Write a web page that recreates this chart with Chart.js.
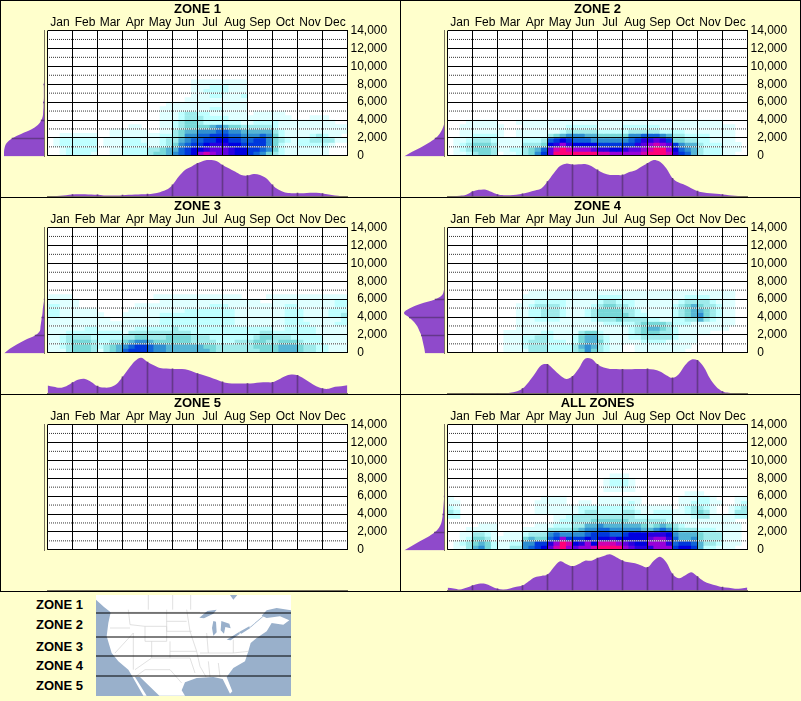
<!DOCTYPE html>
<html lang="en">
<head>
  <meta charset="UTF-8" />
  <title>Zone charts</title>
  <script src="https://cdn.jsdelivr.net/npm/chart.js"></script>
  <style>
    * { margin: 0; padding: 0; box-sizing: border-box; }
    body { width: 801px; height: 701px; background: #ffffcc; position: relative; overflow: hidden; font-family: 'Liberation Sans', Arial, sans-serif; }
    canvas { position: absolute; display: block; }
    .panel { position: absolute; width: 401px; height: 198px; border: 1px solid #000; }
    .key { position: absolute; left: 0; width: 83px; text-align: right; font-weight: bold; font-size: 13px; line-height: 16px; color: #000; }
    #map { position: absolute; left: 96px; top: 595px; }
  </style>
</head>
<body>
  <div class="key" style="top:597px">ZONE 1</div>
  <div class="key" style="top:617px">ZONE 2</div>
  <div class="key" style="top:639px">ZONE 3</div>
  <div class="key" style="top:658px">ZONE 4</div>
  <div class="key" style="top:678px">ZONE 5</div>
  <!-- rough tracing of the location map -->
  <svg id="map" width="195" height="101" viewBox="288 16 585 303">
    <rect x="288" y="16" width="585" height="303" fill="#99b0cb"/>
    <path fill="#fff" d="M288 16H690L700 30L712 16H873V62L830 55L800 62L785 78L800 85L840 80L868 92L850 105L815 100L800 125L770 145L752 160L745 185L735 215L700 235L680 262L697 305L690 312L668 268L640 262L590 265L555 278L545 302L555 318H478L420 262L405 262L440 318H430L398 262L385 240L355 215L335 190L320 140L325 100L332 68L312 52L288 30Z"/>
    <path fill="#99b0cb" d="M598 84L622 64L650 60L640 72L612 86ZM640 94L648 96L650 128L640 138L636 115ZM664 94L688 102L692 116L676 112L672 132L662 122ZM680 150L716 128L720 132L692 152ZM716 128L748 110L750 116L724 132ZM750 112L790 78L791 80L751 114Z"/>
    <g fill="none" stroke="#d2d2d2" stroke-width="2">
      <path d="M332 68H600M385 60L390 105L435 110V155H500V110H435M500 60V125M500 95H560M500 125H575M455 155V205H510V155M510 185H590M510 205H570L585 250M400 130V240M345 190L400 130M405 240L455 205M405 262L435 240H510L545 280M560 60L570 125L590 185L600 230L620 265M625 215L630 262M655 220L660 262M600 190H700M620 130L625 190M700 150L700 190L745 185M572 16V60M445 16V60M518 16V60M330 115H390"/>
    </g>
    <g stroke="#000" stroke-width="3">
      <path d="M288 70H873M288 142H873M288 199H873M288 259H873"/>
    </g>
  </svg>
<script>
const months = ['Jan', 'Feb', 'Mar', 'Apr', 'May', 'Jun', 'Jul', 'Aug', 'Sep', 'Oct', 'Nov', 'Dec'];
const yTicks = ['0', '2,000', '4,000', '6,000', '8,000', '10,000', '12,000', '14,000'];
const dottedLines = [1000, 3000, 5000, 7000, 9000, 11000, 13000];
const levelColors = ['#ffffff', '#e0ffff', '#bfffff', '#9febeb', '#78d8d8', '#55b5d5', '#2f8fd2', '#1164d8',
  '#0038dc', '#0000e0', '#2a00e0', '#5f00e0', '#9800d8', '#d000b0', '#ff0078'];

// heat levels, top row first, bottom row is 0-500. four cells per month, one hex digit per cell
const heat1 = [
  '0000 0000 0000 0000 0000 0001 1111 1111',
  '0000 0000 0000 0000 0000 0001 1122 2111',
  '0000 0000 0000 0000 0000 0001 1222 2111',
  '0000 0000 0000 0000 0000 0001 1122 1112',
  '0000 0000 0000 0000 0000 0011 1111 1111',
  '0000 0000 0000 0000 0001 1111 1111 1111',
  '0000 0000 0000 0000 0011 1111 1122 1111',
  '0000 0000 0000 0000 0011 1233 2211 1111 0111 1100',
  '0000 0000 0000 0000 0011 1233 3222 2111 1111 1110 0011 1000',
  '0000 0000 0000 0000 0011 2344 3222 2221 1222 2111 1111 1100',
  '0000 0000 0000 0110 0011 2344 4456 5443 3333 2111 1111 1111',
  '0000 0000 0011 1111 0011 3455 6667 7665 5555 3211 1111 1111',
  '0011 1111 0011 1111 1122 3466 7788 8776 6676 4211 1123 2110',
  '0122 2222 0111 2221 1123 3567 7889 9887 7886 4321 2233 3311',
  '0122 2222 0111 2222 1123 4678 89aa a998 8886 4211 2222 2100',
  '0012 2222 0011 2222 3345 5789 9abb ba99 8876 4211 1111 1000',
  '0012 2221 0011 2222 3445 6789 cdcb ba99 8764 3211 1111 1000'
];
const heat2 = [
  '0001 1111 0001 1111 1111 1111 1111 1111 1111 1111 1111 0000',
  '0011 1111 1000 1111 1112 2222 1111 2222 2211 1111 1111 1100',
  '0011 1111 1001 1111 1123 3333 2222 2333 3322 2211 1111 1100',
  '0011 2222 1001 1111 3456 6655 4444 4667 7765 3322 2211 1100',
  '0112 3332 1111 2223 7898 7776 6666 678a aba8 4433 2211 1100',
  '0123 4443 1111 3334 9aca 9999 8888 88ab cdcb 8655 3222 1110',
  '0123 4443 1122 3457 bded cccb aa99 abbc deec 9765 3222 1110',
  '0112 3443 0112 3468 beee eeee ddcc cccd eeed a875 3222 1100'
];
const heat3 = [
  '1111 0000 0000 0000 0111 1111 1111 1110 0001 1111 1111 1111',
  '1111 1000 0000 0000 0011 1111 1111 1111 1100 1111 1111 1122',
  '2211 1000 0000 0011 1111 1111 1122 2111 1111 1122 1111 1122',
  '2211 1111 0000 0111 1111 1122 2222 2211 1111 1122 2111 1222',
  '2211 1111 1000 1111 1122 2222 2222 2211 1111 1122 2111 1223',
  '1111 1111 1100 1111 1122 2222 2222 2211 1111 1122 2111 1112',
  '1111 1111 1111 1111 1122 2222 2222 2211 1111 1122 2211 1122',
  '1111 1122 1111 1122 2222 3222 2222 2222 2222 1122 2221 1111',
  '1112 2222 2222 1333 3333 3332 2222 2222 2233 2222 2221 1111',
  '1123 3332 2222 3344 3334 4443 3322 2222 2344 3332 2222 1111',
  '1123 4443 2233 4566 5444 4443 3332 2233 3443 3444 3222 1111',
  '1123 4443 2345 6788 7665 5555 5443 3333 3444 4555 4332 2111',
  '1113 4443 1345 7888 7665 5555 5543 3333 3344 4555 4332 2111'
];
const heat4 = [
  '0000 0000 0000 0111 1111 1111 1111 1111 1111 1111 1111 1100',
  '0000 0000 0000 1111 1111 1111 2222 1111 1111 1122 2211 1100',
  '0000 0000 0000 1122 2221 1111 2332 2211 1111 1233 3321 1100',
  '0000 0000 0001 1233 3321 1112 3443 3211 1111 2345 4332 1100',
  '0000 0000 0001 1223 3321 1123 4444 3321 1111 2345 5432 1100',
  '0000 0000 0001 1223 3321 1123 4444 4322 1111 2345 6432 1100',
  '0000 0000 0001 1122 2211 1112 3334 3333 2211 2233 5321 1100',
  '0000 0000 0001 1111 1111 1111 1222 2234 4443 2221 1111 1100',
  '0000 0000 0001 1111 1111 1111 1111 1234 5543 2111 1111 1000',
  '0000 0000 0111 1112 2111 1344 2111 1234 4433 2111 1100',
  '0000 0000 0111 2233 2111 2455 3211 1223 3333 2111',
  '0000 0000 0111 2333 2221 2455 4211 1112 2221 1111',
  '0000 0000 0111 2333 2222 3565 3211 0011 1111 1110',
  '0000 0000 0111 1333 2222 3464 3211 0011 1111 1100'
];
const heat5 = [];
const heatAll = [
  '0000 0000 0000 0000 0000 0000 0011 1000',
  '0000 0000 0000 0000 0000 0000 0122 2100',
  '0000 0000 0000 0000 0000 0000 0122 2100',
  '0000 0000 0000 0000 0000 0000 0111 1100',
  '0000 0000 0000 0000 0000 0000 0000 0000 0000 0011 1000',
  '1000 0000 0000 0001 1110 0000 1111 1110 0000 0111 2210 0011',
  '1100 0000 0000 0011 1110 0110 1111 1210 0000 0112 2211 0012',
  '2100 0000 0000 0011 1111 1222 2222 2211 1111 0123 3210 0123',
  '3200 0000 0000 0011 1111 1233 2222 3321 1222 1123 4310 0133',
  '2200 0000 0000 0000 0112 3333 3333 3322 2222 1112 3311 1122',
  '0000 0000 0000 0000 0122 3334 4444 4333 3332 1111 1111 1100',
  '0000 0111 0000 0011 1222 3355 6555 5554 3454 3211 1111 1110',
  '0001 1111 0000 1111 3333 4566 7766 6665 5676 4333 2221 1110',
  '0011 3321 0111 2333 6766 6678 8877 8999 aaa9 6555 4333 1110',
  '0012 4431 1111 4544 78c8 8898 99a9 9999 bcca 7556 4333 1110',
  '0123 4542 1122 6688 aced 9ac9 dddc ba99 ccca 7887 5332 1110',
  '0113 5642 1133 6789 bdec bccd eeee cbaa accc 8998 5221 1100'
];

// outline heights along the months, every quarter month
const bottom1 = [0, 1, 2, 4, 6, 7, 7, 6, 5, 3, 3, 3, 4, 5, 6, 7, 7, 9, 13, 20, 35, 60, 80, 90, 100, 108, 110, 107, 95, 85, 75, 65, 63, 68, 65, 55, 35, 20, 12, 10, 10, 10, 11, 11, 9, 6, 3, 1, 0];
const bottom2 = [0, 1, 2, 5, 15, 20, 21, 14, 6, 4, 4, 5, 8, 13, 18, 24, 45, 70, 92, 99, 96, 97, 98, 92, 80, 70, 65, 65, 65, 73, 78, 90, 100, 110, 105, 85, 55, 42, 35, 25, 16, 12, 10, 8, 6, 4, 2, 1, 0];
const bottom3 = [24, 20, 17, 22, 33, 42, 44, 35, 22, 18, 19, 28, 50, 75, 98, 108, 95, 85, 77, 75, 74, 74, 73, 68, 60, 55, 49, 42, 35, 31, 30, 30, 30, 31, 33, 34, 34, 42, 52, 57, 55, 45, 33, 22, 15, 14, 20, 22, 25];
const bottom4 = [0, 0, 0, 0, 0, 0, 0, 0, 0, 0, 2, 6, 15, 35, 60, 85, 88, 72, 55, 44, 52, 75, 105, 105, 88, 78, 74, 74, 73, 73, 74, 74, 74, 72, 66, 55, 47, 58, 85, 102, 100, 80, 45, 20, 6, 2, 0, 0, 0];
const bottom5 = [];
const bottomAll = [8, 6, 3, 8, 15, 20, 20, 13, 5, 3, 6, 11, 15, 28, 40, 44, 48, 70, 88, 80, 73, 80, 90, 90, 98, 104, 109, 100, 90, 85, 82, 75, 70, 90, 102, 85, 50, 37, 45, 55, 42, 28, 20, 15, 10, 8, 5, 6, 9];

// outline widths up the y axis, every 500
const side1 = [121, 121, 119, 113, 97, 70, 40, 20, 10, 5, 4, 3, 3, 2, 2, 2, 2, 1, 0];
const side2 = [121, 98, 71, 48, 28, 15, 7, 2, 0];
const side3 = [121, 105, 83, 58, 28, 14, 12, 10, 8, 6, 5, 3, 1, 0];
const side4 = [58, 60, 63, 66, 69, 75, 81, 91, 105, 121, 105, 73, 28, 7, 2, 0];
const side5 = [];
const sideAll = [121, 98, 75, 50, 30, 17, 10, 7, 5, 4, 3, 2, 1, 1, 0];

const zoneNames = ['ZONE 1', 'ZONE 2', 'ZONE 3', 'ZONE 4', 'ZONE 5', 'ALL ZONES'];
const heats = [heat1, heat2, heat3, heat4, heat5, heatAll];
const bottoms = [bottom1, bottom2, bottom3, bottom4, bottom5, bottomAll];
const sides = [side1, side2, side3, side4, side5, sideAll];

const purple = '#8f4acb';
const purpleLine = '#64388a';
const baseGrey = '#77725e';
const clear = 'rgba(0,0,0,0)';
const fontName = "'Liberation Sans', Arial, sans-serif";

Chart.defaults.animation = false;
Chart.defaults.responsive = false;
Chart.defaults.font.family = fontName;
Chart.defaults.color = '#000';
Chart.defaults.plugins.legend.display = false;
Chart.defaults.plugins.tooltip.enabled = false;

// white plot background
const plotWhite = {
  id: 'plotWhite',
  beforeDraw(chart) {
    const a = chart.chartArea;
    chart.ctx.fillStyle = '#fff';
    chart.ctx.fillRect(a.left, a.top, a.right - a.left, a.bottom - a.top);
  }
};

function addCanvas(left, top, w, h) {
  const c = document.createElement('canvas');
  c.width = w;
  c.height = h;
  c.style.left = left + 'px';
  c.style.top = top + 'px';
  document.body.appendChild(c);
  return c;
}

function heatDatasets(rows) {
  return rows.map((row, i) => {
    const r = rows.length - 1 - i;
    const cells = row.replace(/ /g, '').padEnd(48, '0').split('').map(d => parseInt(d, 16));
    return {
      data: cells.map(l => l ? [r * 500, (r + 1) * 500] : null),
      backgroundColor: cells.map(l => levelColors[l]),
      barPercentage: 1,
      categoryPercentage: 1,
      grouped: false,
      order: 3,
      xAxisID: 'x',
      yAxisID: 'y'
    };
  });
}

// the dotted rules: dark dots on a white line, so they still show on the dark cells
// dash offset 0.5 because the line starts on a half pixel, else the dots smear to solid grey
function dottedDatasets() {
  const sets = [];
  dottedLines.forEach(v => {
    const line = { type: 'line', data: [{ x: 0, y: v }, { x: 12, y: v }], xAxisID: 'xLine', yAxisID: 'y', pointRadius: 0, borderWidth: 1 };
    sets.push({ ...line, borderColor: '#fff', order: 2 });
    sets.push({ ...line, borderColor: '#333', borderDash: [1, 1], borderDashOffset: 0.5, order: 1 });
  });
  return sets;
}

function drawHeat(px, py, name, rows) {
  const cellLabels = [];
  months.forEach(m => { for (let i = 0; i < 4; i++) cellLabels.push(m + i); });
  new Chart(addCanvas(px, py, 401, 166), {
    type: 'bar',
    data: { labels: cellLabels, datasets: heatDatasets(rows).concat(dottedDatasets()) },
    plugins: [plotWhite],
    options: {
      layout: { padding: { left: 47.5, bottom: 9.5 } },
      scales: {
        x: { display: false, offset: true, stacked: false },
        xLine: { type: 'linear', display: false, min: 0, max: 12, offset: false },
        xMonth: {
          type: 'category',
          labels: months,
          position: 'top',
          offset: true,
          afterFit: s => { s.height = 30.5; },
          grid: { offset: true, z: 3, color: '#000', lineWidth: 1, drawTicks: false },
          border: { display: false },
          title: { display: true, text: name, color: '#000', font: { size: 13, weight: 'bold' }, padding: { top: 2, bottom: 0 } },
          ticks: { font: { size: 12 }, maxRotation: 0, autoSkip: false, padding: 1 }
        },
        y: {
          position: 'right',
          min: 0,
          max: 14000,
          afterFit: s => { s.width = 53.5; },
          grid: { z: 3, drawTicks: false, lineWidth: 1, color: c => c.tick && c.tick.value % 2000 ? clear : '#000' },
          border: { display: false },
          ticks: {
            stepSize: 1000,
            autoSkip: false,
            padding: 3,
            font: { size: 12 },
            callback: v => {
              if (v % 2000) return '';
              const label = yTicks[v / 2000];
              return label.length < 6 ? '  ' + label : label;
            }
          }
        }
      }
    }
  });
}

function drawBottom(px, py, values) {
  const points = values.map((v, i) => ({ x: i / 4, y: v }));
  new Chart(addCanvas(px + 47, py + 159, 301, 38), {
    type: 'line',
    data: {
      datasets: [
        { type: 'bar', data: points.filter((p, i) => i % 4 === 0 && i > 0 && i < 48), backgroundColor: purpleLine, barThickness: 1, order: 0 },
        { data: points, backgroundColor: purple, borderWidth: 0, pointRadius: 0, fill: 'origin', tension: 0.35, order: 1 }
      ]
    },
    options: {
      layout: { padding: { left: 0.5, right: 0.5, top: 1, bottom: 0.5 } },
      scales: {
        x: {
          type: 'linear', min: 0, max: 12, offset: false,
          afterFit: s => { s.height = 0; },
          grid: { display: false }, ticks: { display: false },
          border: { color: baseGrey, width: 1 }
        },
        y: { display: false, min: 0, max: 110 }
      }
    }
  });
}

function drawSide(px, py, values) {
  const points = values.map((v, i) => ({ x: v, y: i * 500 }));
  new Chart(addCanvas(px + 3, py + 30, 43, 127), {
    type: 'line',
    data: {
      datasets: [
        { type: 'bar', data: points.filter((p, i) => i % 4 === 0 && i > 0), backgroundColor: purpleLine, barThickness: 1, order: 0 },
        { data: points, backgroundColor: purple, borderWidth: 0, pointRadius: 0, fill: 'origin', tension: 0.35, order: 1 }
      ]
    },
    options: {
      indexAxis: 'y',
      layout: { padding: { left: 1, right: 1.5, top: 0.5, bottom: 0.5 } },
      scales: {
        x: { display: false, type: 'linear', reverse: true, min: 0, max: 121 },
        y: {
          type: 'linear', position: 'right', min: 0, max: 14000, offset: false,
          afterFit: s => { s.width = 0; },
          grid: { display: false }, ticks: { display: false },
          border: { color: baseGrey, width: 1 }
        }
      }
    }
  });
}

zoneNames.forEach((name, i) => {
  const px = (i % 2) * 400;
  const py = Math.floor(i / 2) * 197;
  const box = document.createElement('div');
  box.className = 'panel';
  box.style.left = px + 'px';
  box.style.top = py + 'px';
  document.body.appendChild(box);
  drawHeat(px, py, name, heats[i]);
  drawBottom(px, py, bottoms[i]);
  drawSide(px, py, sides[i]);
});
</script>
</body>
</html>
